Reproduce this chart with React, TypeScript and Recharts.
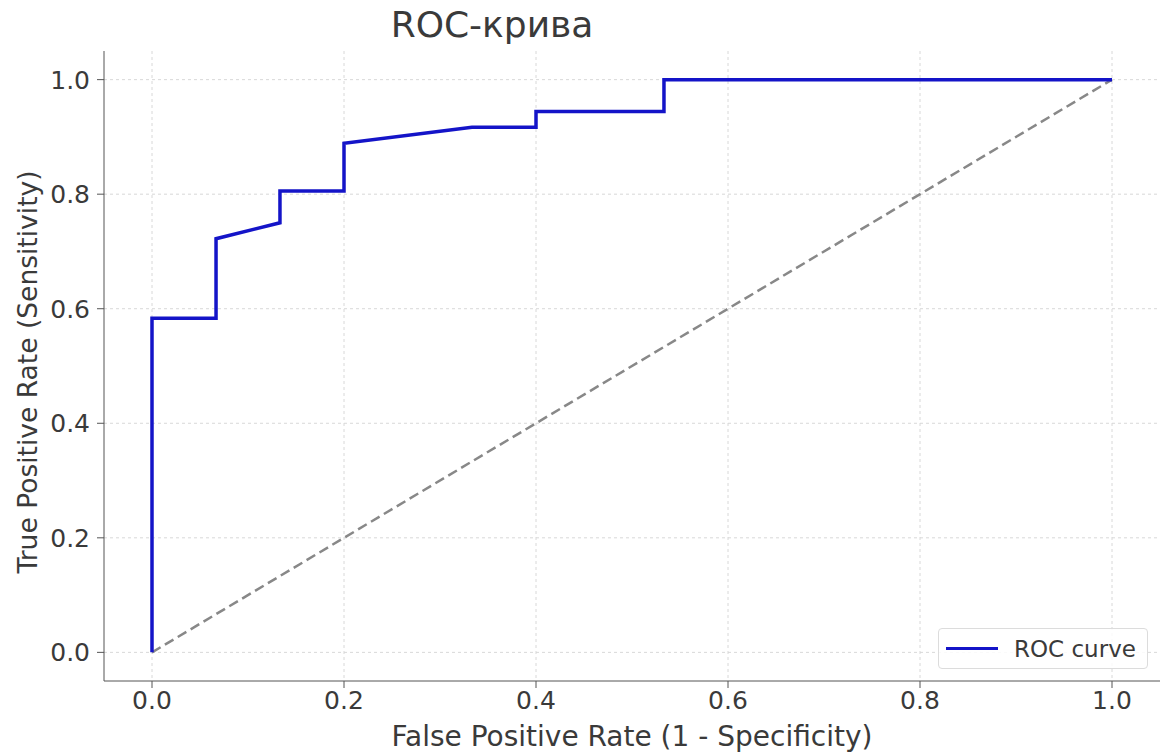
import React from 'react';
import { LineChart, Line, XAxis, YAxis, CartesianGrid, Legend } from 'recharts';

const rocFpr = [0, 0, 0.0667, 0.0667, 0.1333, 0.1333, 0.2, 0.2, 0.3333, 0.4, 0.4, 0.5333, 0.5333, 1];
const rocTpr = [0, 0.5833, 0.5833, 0.7222, 0.75, 0.8056, 0.8056, 0.8889, 0.9167, 0.9167, 0.9444, 0.9444, 1, 1];
const chanceX = [0, 1];
const chanceY = [0, 1];
const ticks = [0, 0.2, 0.4, 0.6, 0.8, 1.0];
const DOMAIN: [number, number] = [-0.05, 1.05];

const rocData = rocFpr.map((x, i) => ({ x, y: rocTpr[i] }));
const chanceData = chanceX.map((x, i) => ({ x, y: chanceY[i] }));

const FONT = '"DejaVu Sans", sans-serif';
const TEXT = '#3a3a3a';

// grid lines only at the tick values (no frame lines at the plot edges)
const gridX = ({ offset }: any) =>
  ticks.map((t) => offset.left + (offset.width * (t - DOMAIN[0])) / (DOMAIN[1] - DOMAIN[0]));
const gridY = ({ offset }: any) =>
  ticks.map((t) => offset.top + (offset.height * (DOMAIN[1] - t)) / (DOMAIN[1] - DOMAIN[0]));

const LegendBox = () => (
  <div
    style={{
      position: 'absolute',
      left: 938,
      top: 628,
      width: 210,
      height: 41,
      border: '1px solid #dcdcdc',
      borderRadius: 4,
      background: 'rgba(255,255,255,0.85)',
      display: 'flex',
      alignItems: 'center',
      boxSizing: 'border-box',
      fontFamily: FONT,
      fontSize: 23,
      color: TEXT,
    }}
  >
    <div style={{ width: 52, height: 3.5, background: '#1414c8', marginLeft: 7, marginRight: 16 }} />
    <span>ROC curve</span>
  </div>
);

export default function App() {
  return (
    <div style={{ position: 'absolute', left: 0, top: 0, width: 1162, height: 756, background: '#fff', fontFamily: FONT }}>
      <div style={{ position: 'absolute', left: 0, width: 984, top: 4, textAlign: 'center', fontSize: 36, color: TEXT, lineHeight: 'normal' }}>
        ROC-крива
      </div>
      <div style={{ position: 'absolute', left: 104, width: 1056, top: 720, textAlign: 'center', fontSize: 28, color: TEXT, lineHeight: 'normal' }}>
        False Positive Rate (1 - Specificity)
      </div>
      <div
        style={{
          position: 'absolute',
          left: 27,
          top: 372,
          transform: 'translate(-50%, -50%) rotate(-90deg)',
          whiteSpace: 'nowrap',
          fontSize: 26.5,
          color: TEXT,
        }}
      >
        True Positive Rate (Sensitivity)
      </div>
      <LineChart width={1162} height={756} margin={{ top: 51, right: 2, bottom: 35, left: 0 }}>
        <CartesianGrid
          stroke="#d8d8d8"
          strokeDasharray="3 3"
          verticalCoordinatesGenerator={gridX}
          horizontalCoordinatesGenerator={gridY}
        />
        <XAxis
          type="number"
          dataKey="x"
          domain={DOMAIN}
          ticks={ticks}
          allowDataOverflow
          height={40}
          tickFormatter={(v: number) => v.toFixed(1)}
          tickSize={7}
          tickMargin={3}
          stroke="#555"
          tick={{ fill: TEXT, fontSize: 25, fontFamily: FONT }}
        />
        <YAxis
          type="number"
          dataKey="y"
          domain={DOMAIN}
          ticks={ticks}
          allowDataOverflow
          width={104}
          tickFormatter={(v: number) => v.toFixed(1)}
          tickSize={7}
          tickMargin={7}
          stroke="#555"
          tick={{ fill: TEXT, fontSize: 25, fontFamily: FONT }}
        />
        <Line
          data={chanceData}
          dataKey="y"
          type="linear"
          stroke="#888"
          strokeWidth={2.5}
          strokeDasharray="10 5"
          dot={false}
          isAnimationActive={false}
        />
        <Line
          data={rocData}
          dataKey="y"
          name="ROC curve"
          type="linear"
          stroke="#1414c8"
          strokeWidth={3.5}
          dot={false}
          isAnimationActive={false}
        />
        <Legend content={() => <LegendBox />} wrapperStyle={{ position: 'absolute', left: 0, top: 0, width: 0, height: 0 }} />
      </LineChart>
    </div>
  );
}
